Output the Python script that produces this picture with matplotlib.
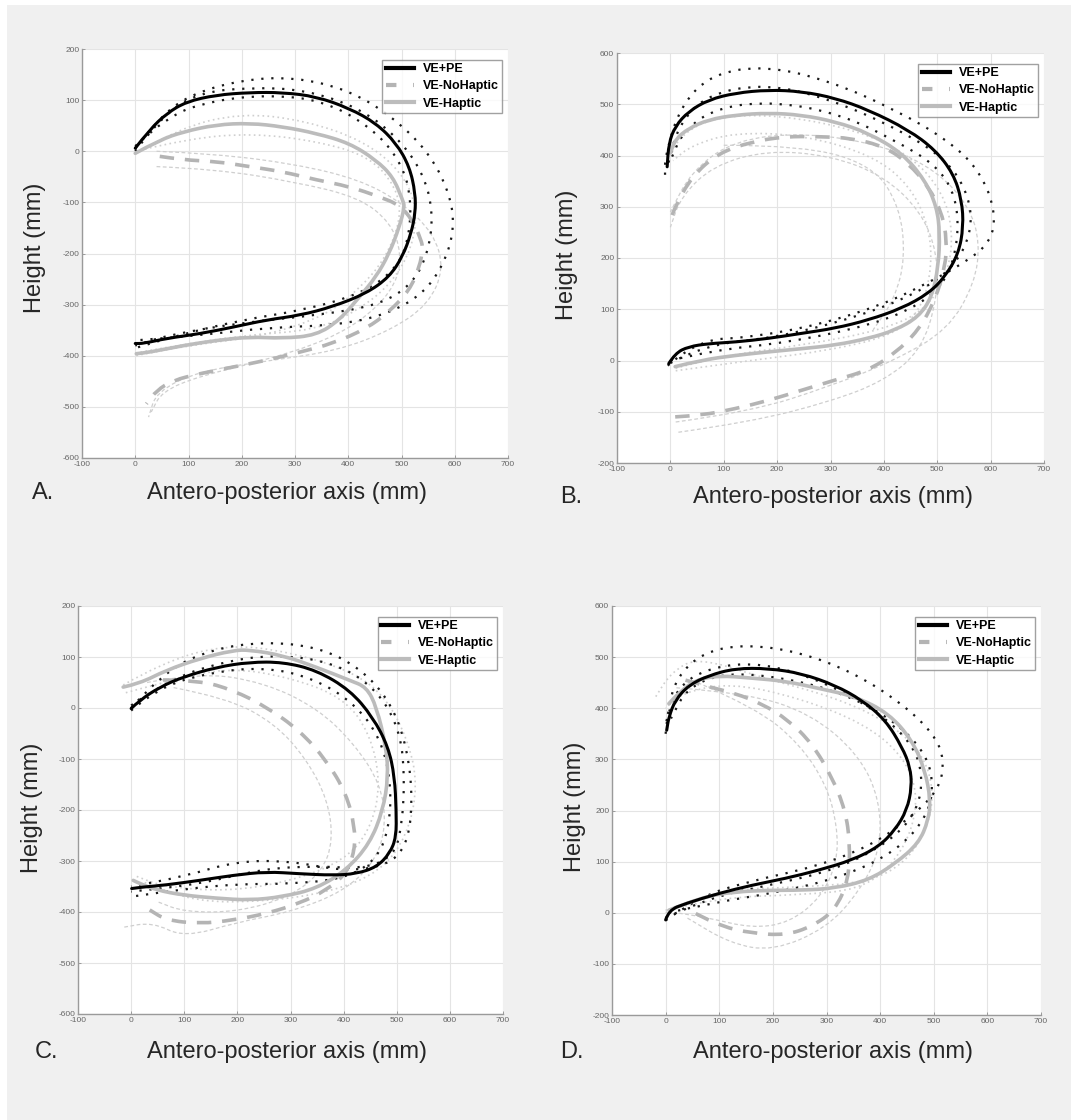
import matplotlib.pyplot as plt
from matplotlib.patches import Rectangle, PathPatch
from matplotlib.path import Path
from matplotlib.lines import Line2D
import numpy as np

plt.rcParams['font.family'] = ['Liberation Sans', 'DejaVu Sans']
plt.rcParams['axes.unicode_minus'] = False

W, H = 1071, 1120

# ---- panel A (x, y) in mm ----
A_PE_MEAN = [(0, 6), (27, 42), (59, 74), (96, 97), (152, 110), (215, 115), (277, 115), (340, 107),
             (402, 84), (452, 55), (490, 16), (515, -30), (526, -82), (526, -121), (518, -161),
             (502, -206), (477, -246), (434, -278), (371, -304), (309, -321), (246, -330),
             (184, -344), (121, -357), (59, -366), (15, -376), (0, -376)]
A_NOHAP_MEAN = [(46, -10), (90, -17), (152, -20), (215, -30), (277, -40), (340, -56), (402, -69),
                (459, -89), (496, -105), (521, -135), (537, -174), (540, -190), (534, -226),
                (515, -272), (477, -314), (434, -347), (371, -376), (309, -393), (246, -409),
                (184, -422), (121, -435), (71, -448), (40, -468), (21, -494)]
A_HAP_MEAN = [(0, -4), (46, 22), (90, 38), (152, 52), (215, 55), (277, 48), (340, 35), (402, 16),
              (452, -17), (484, -50), (502, -95), (506, -108), (496, -148), (477, -200),
              (452, -246), (421, -285), (384, -330), (340, -360), (277, -366), (215, -363),
              (152, -370), (90, -380), (27, -393), (2, -396)]
A_PE_TRIALS = [
    [(0, 5), (40, 60), (100, 110), (200, 140), (300, 145), (400, 120), (480, 70), (550, 0),
     (590, -80), (600, -150), (580, -220), (540, -280), (470, -320), (380, -340), (250, -345),
     (120, -360), (0, -370)],
    [(0, 0), (50, 70), (120, 115), (220, 125), (320, 120), (420, 85), (490, 30), (540, -40),
     (560, -120), (550, -200), (520, -260), (460, -300), (350, -320), (200, -335), (60, -360),
     (0, -380)],
    [(0, 10), (60, 70), (150, 100), (250, 110), (350, 100), (440, 50), (500, -20), (520, -100),
     (510, -190), (480, -240), (420, -280), (320, -310), (200, -330), (80, -360), (0, -385)],
]
A_HAP_TRIALS = [
    [(0, -5), (80, 45), (200, 75), (320, 60), (430, 20), (500, -40), (530, -110), (520, -190),
     (480, -260), (420, -310), (340, -350), (200, -360), (50, -385), (0, -395)],
    [(0, 0), (100, 25), (220, 35), (340, 20), (440, -10), (490, -70), (500, -130), (470, -210),
     (420, -270), (360, -320), (250, -360), (100, -380), (0, -400)],
]
A_NOHAP_TRIALS = [
    [(40, 0), (150, -5), (300, -25), (420, -55), (500, -100), (560, -160), (580, -230),
     (550, -300), (480, -350), (380, -390), (250, -410), (120, -430), (40, -470), (25, -520)],
    [(40, -30), (150, -35), (300, -60), (420, -90), (480, -140), (500, -200), (490, -260),
     (440, -320), (360, -370), (240, -410), (120, -440), (50, -470), (30, -510)],
]

# ---- panel B ----
B_PE_MEAN = [(-3, -6), (9, 14), (34, 27), (72, 33), (122, 36), (184, 43), (246, 53), (309, 63),
             (371, 79), (434, 102), (484, 131), (515, 164), (540, 209), (549, 261), (546, 313),
             (530, 365), (496, 411), (446, 450), (371, 489), (309, 512), (246, 525), (184, 528),
             (122, 522), (72, 509), (34, 486), (9, 457), (-3, 424), (-6, 378)]
B_NOHAP_MEAN = [(9, -110), (59, -107), (122, -94), (184, -78), (246, -58), (309, -38),
                (371, -19), (421, 14), (465, 59), (496, 118), (515, 183), (518, 235), (509, 287),
                (484, 339), (446, 385), (402, 417), (340, 434), (277, 437), (215, 437),
                (153, 427), (90, 405), (40, 359), (9, 300), (0, 274)]
B_HAP_MEAN = [(9, -12), (59, 1), (122, 10), (184, 17), (246, 23), (309, 30), (371, 43), (421, 59),
              (465, 85), (490, 124), (502, 183), (505, 248), (499, 300), (477, 352), (434, 405),
              (371, 444), (309, 466), (246, 479), (184, 483), (122, 479), (72, 470), (34, 453),
              (9, 431), (0, 405)]
B_PE_TRIALS = [
    [(-5, -10), (50, 40), (150, 45), (280, 70), (400, 110), (480, 150), (550, 190), (600, 230),
     (610, 290), (580, 370), (520, 430), (420, 490), (300, 545), (180, 575), (80, 560),
     (20, 500), (-10, 400), (-10, 360)],
    [(0, -5), (60, 30), (200, 45), (350, 85), (460, 130), (530, 180), (565, 250), (560, 320),
     (520, 390), (430, 450), (300, 510), (180, 540), (70, 520), (15, 460), (-5, 380)],
    [(0, 0), (80, 20), (220, 35), (380, 70), (470, 110), (520, 160), (540, 240), (535, 320),
     (500, 380), (420, 430), (320, 480), (200, 505), (90, 495), (25, 450), (0, 390)],
]
B_HAP_TRIALS = [
    [(10, -15), (100, 10), (250, 30), (400, 60), (480, 100), (520, 170), (530, 250), (510, 330),
     (450, 400), (350, 450), (200, 480), (80, 475), (20, 440), (0, 400)],
    [(10, -20), (150, 0), (300, 20), (420, 50), (470, 100), (490, 180), (485, 260), (450, 340),
     (380, 400), (250, 440), (120, 445), (40, 420), (5, 390)],
]
B_NOHAP_TRIALS = [
    [(10, -120), (150, -100), (300, -50), (420, 0), (520, 60), (570, 150), (580, 230),
     (560, 300), (500, 370), (400, 420), (250, 445), (120, 430), (40, 370), (0, 290)],
    [(15, -140), (150, -120), (300, -80), (400, -40), (470, 20), (500, 120), (500, 210),
     (470, 290), (400, 360), (300, 400), (180, 410), (80, 380), (20, 320), (0, 260)],
    [(100, 420), (250, 420), (380, 380), (430, 300), (440, 200), (420, 120), (380, 60)],
]

# ---- panel C ----
C_PE_MEAN = [(0, -1), (16, 15), (54, 41), (98, 61), (161, 80), (223, 90), (286, 90), (349, 74),
             (412, 35), (455, -18), (484, -76), (496, -135), (499, -201), (499, -253),
             (487, -285), (462, -312), (424, -325), (380, -328), (317, -325), (255, -321),
             (192, -328), (129, -338), (66, -347), (23, -351), (1, -354)]
C_NOHAP_MEAN = [(60, 55), (129, 54), (192, 35), (255, 2), (317, -44), (368, -103), (405, -168),
                (421, -233), (421, -279), (405, -325), (368, -357), (317, -383), (255, -403),
                (192, -416), (129, -423), (66, -416), (35, -396)]
C_HAP_MEAN = [(-15, 41), (16, 48), (66, 74), (129, 97), (192, 113), (223, 114), (286, 103),
              (349, 80), (412, 54), (443, 41), (462, 2), (480, -76), (484, -135), (474, -201),
              (449, -266), (405, -318), (349, -354), (286, -370), (223, -377), (161, -373),
              (98, -367), (48, -357), (16, -344), (4, -338)]
C_PE_TRIALS = [
    [(0, 0), (60, 70), (150, 115), (250, 130), (350, 120), (430, 80), (490, 10), (520, -80),
     (530, -180), (520, -270), (480, -310), (400, -320), (300, -300), (200, -300), (100, -330),
     (0, -350)],
    [(0, -5), (50, 40), (150, 70), (250, 80), (340, 60), (420, 10), (470, -60), (490, -150),
     (485, -240), (460, -300), (400, -335), (300, -345), (200, -345), (100, -355), (0, -370)],
    [(0, 5), (70, 55), (170, 90), (270, 105), (380, 90), (460, 40), (505, -40), (515, -130),
     (510, -230), (495, -290), (440, -315), (350, -310), (250, -315), (130, -345), (0, -360)],
]
C_HAP_TRIALS = [
    [(-15, 45), (60, 90), (180, 125), (300, 110), (420, 70), (480, 20), (520, -60), (540, -150),
     (520, -250), (470, -320), (380, -360), (250, -380), (120, -380), (20, -340)],
    [(-10, 30), (60, 50), (180, 80), (300, 60), (400, 20), (450, -50), (470, -150), (450, -240),
     (400, -300), (300, -340), (180, -360), (60, -350), (10, -330)],
]
C_NOHAP_TRIALS = [
    [(30, 50), (130, 70), (250, 50), (350, 0), (420, -70), (470, -150), (480, -230), (460, -300),
     (400, -360), (300, -400), (200, -420), (100, -450), (40, -420), (-15, -430)],
    [(80, 40), (180, 20), (270, -30), (330, -100), (370, -180), (380, -260), (360, -320),
     (300, -370), (200, -400), (100, -400), (50, -380)],
]

# ---- panel D ----
D_PE_MEAN = [(0, -14), (6, 5), (37, 18), (99, 38), (161, 54), (223, 67), (285, 83), (348, 103),
             (397, 129), (428, 162), (450, 201), (459, 246), (456, 285), (441, 324), (410, 377),
             (366, 416), (316, 445), (254, 468), (192, 478), (130, 478), (80, 464), (43, 445),
             (18, 416), (6, 383), (2, 357)]
D_NOHAP_MEAN = [(37, 455), (80, 442), (130, 429), (179, 409), (229, 377), (273, 331), (310, 266),
                (335, 201), (344, 135), (341, 64), (316, 5), (273, -27), (223, -44), (161, -40),
                (105, -27), (55, -1)]
D_HAP_MEAN = [(6, 5), (68, 31), (130, 41), (192, 44), (254, 44), (316, 48), (379, 64), (428, 96),
              (472, 136), (490, 181), (494, 220), (484, 278), (460, 337), (416, 390), (354, 423),
              (285, 439), (223, 453), (161, 459), (99, 464), (55, 455), (24, 429), (6, 409)]
D_PE_TRIALS = [
    [(0, -15), (60, 30), (150, 60), (280, 90), (380, 130), (450, 180), (510, 240), (520, 300),
     (500, 350), (440, 410), (350, 470), (250, 510), (150, 525), (70, 510), (20, 460), (5, 400),
     (0, 350)],
    [(0, -10), (80, 30), (200, 55), (320, 85), (420, 140), (470, 200), (480, 270), (460, 330),
     (400, 390), (300, 450), (180, 490), (80, 480), (20, 440), (0, 370)],
    [(5, 0), (90, 20), (210, 40), (330, 70), (430, 120), (490, 190), (500, 260), (480, 320),
     (420, 380), (330, 430), (220, 460), (110, 470), (40, 440), (10, 380)],
]
D_HAP_TRIALS = [
    [(0, 0), (100, 45), (250, 50), (380, 60), (450, 100), (490, 170), (500, 240), (480, 310),
     (420, 370), (320, 420), (180, 460), (60, 500), (10, 470), (-20, 420)],
    [(0, 5), (100, 30), (250, 35), (360, 45), (420, 90), (460, 160), (470, 240), (440, 310),
     (370, 370), (250, 420), (120, 450), (30, 430), (0, 400)],
]
D_NOHAP_TRIALS = [
    [(20, 440), (150, 430), (270, 390), (360, 310), (400, 220), (400, 120), (360, 40),
     (300, -30), (200, -75), (120, -60), (40, -10)],
    [(60, 450), (170, 400), (250, 330), (300, 250), (320, 170), (320, 100), (290, 30),
     (230, -20), (160, -30), (80, -10), (20, 0)],
]

PANEL_LETTERS = ['A.', 'B.', 'C.', 'D.']
Y_LIMITS = [(-600, 200), (-200, 600), (-600, 200), (-200, 600)]
X_LIMITS = (-100, 700)
LEGEND_LABELS = ['VE+PE', 'VE-NoHaptic', 'VE-Haptic']

panels = [
    (A_PE_MEAN, A_NOHAP_MEAN, A_HAP_MEAN, A_PE_TRIALS, A_NOHAP_TRIALS, A_HAP_TRIALS),
    (B_PE_MEAN, B_NOHAP_MEAN, B_HAP_MEAN, B_PE_TRIALS, B_NOHAP_TRIALS, B_HAP_TRIALS),
    (C_PE_MEAN, C_NOHAP_MEAN, C_HAP_MEAN, C_PE_TRIALS, C_NOHAP_TRIALS, C_HAP_TRIALS),
    (D_PE_MEAN, D_NOHAP_MEAN, D_HAP_MEAN, D_PE_TRIALS, D_NOHAP_TRIALS, D_HAP_TRIALS),
]

# axes boxes in pixels: left, top, right, bottom
boxes = [(82, 49, 508, 458), (617, 53, 1044, 463), (78, 606, 503, 1014), (612, 606, 1041, 1015)]
# label positions in pixels
ylab_pos = [(35, 248), (567, 255), (32, 808), (575, 807)]
xlab_pos = [(287, 493), (833, 497), (287, 1052), (833, 1052)]
letter_pos = [(32, 493), (560, 497), (35, 1052), (560, 1052)]

PE_COLOR = 'black'
NOHAP_COLOR = '#b4b4b4'
HAP_COLOR = '#bcbcbc'
TRIAL_COLOR = '#cfcfcf'


def fx(px):
    return px / W


def fy(py):
    return 1 - py / H


def smooth_path(pts):
    # quadratic bezier through the midpoints, so the measured points read as a curve
    p = np.array(pts, dtype=float)
    verts = [p[0]]
    codes = [Path.MOVETO]
    for k in range(1, len(p) - 1):
        verts += [p[k], (p[k] + p[k + 1]) / 2]
        codes += [Path.CURVE3, Path.CURVE3]
    verts.append(p[-1])
    codes.append(Path.LINETO)
    return Path(verts, codes)


def draw(ax, pts, **kw):
    ax.add_patch(PathPatch(smooth_path(pts), fill=False, **kw))


fig = plt.figure(figsize=(W / 100, H / 100), dpi=100, facecolor='#f0f0f0')
# thin white border on the top and left edges
fig.patches.append(Rectangle((0, 0), fx(7), 1, transform=fig.transFigure,
                             facecolor='white', edgecolor='none', zorder=-1))
fig.patches.append(Rectangle((0, fy(5)), 1, 1, transform=fig.transFigure,
                             facecolor='white', edgecolor='none', zorder=-1))

for i, (pe, nohap, hap, pe_tr, nohap_tr, hap_tr) in enumerate(panels):
    l, t, r, b = boxes[i]
    ax = fig.add_axes([fx(l), fy(b), fx(r - l), (b - t) / H])
    ax.set_facecolor('white')

    # individual trials
    for tr in nohap_tr:
        draw(ax, tr, edgecolor=TRIAL_COLOR, lw=0.9, linestyle=(0, (3, 2)), zorder=2)
    for tr in hap_tr:
        draw(ax, tr, edgecolor=TRIAL_COLOR, lw=1.2, linestyle=(0, (1, 2)), zorder=2)
    for tr in pe_tr:
        draw(ax, tr, edgecolor='#1a1a1a', lw=1.6, linestyle=(0, (1, 3.5)), zorder=3)

    # means
    draw(ax, nohap, edgecolor=NOHAP_COLOR, lw=2.6, linestyle=(0, (4, 3)), zorder=4)
    draw(ax, hap, edgecolor=HAP_COLOR, lw=2.6, zorder=4, capstyle='round')
    draw(ax, pe, edgecolor=PE_COLOR, lw=2.2, zorder=5, capstyle='round')

    ax.set_xlim(*X_LIMITS)
    ax.set_ylim(*Y_LIMITS[i])
    ax.set_xticks(np.arange(-100, 701, 100))
    ax.set_yticks(np.arange(Y_LIMITS[i][0], Y_LIMITS[i][1] + 1, 100))
    ax.grid(True, color='#e4e4e4', lw=0.8)
    ax.set_axisbelow(True)
    for s in ['top', 'right']:
        ax.spines[s].set_visible(False)
    for s in ['left', 'bottom']:
        ax.spines[s].set_color('#9a9a9a')
        ax.spines[s].set_linewidth(1.0)
    ax.tick_params(direction='in', length=2.5, width=0.7, colors='#9a9a9a',
                   labelcolor='#666666', labelsize=6, pad=2)

    handles = [Line2D([], [], color=PE_COLOR, lw=3),
               Line2D([], [], color=NOHAP_COLOR, lw=3, dashes=(2.5, 4)),
               Line2D([], [], color=HAP_COLOR, lw=3)]
    leg = ax.legend(handles, LEGEND_LABELS, loc='upper right', bbox_to_anchor=(0.985, 0.973),
                    prop={'weight': 'bold', 'size': 9}, frameon=True, fancybox=False,
                    handlelength=2.3, handletextpad=0.65, borderpad=0.25, labelspacing=0.42,
                    borderaxespad=0)
    leg.get_frame().set_edgecolor('#8a8a8a')
    leg.get_frame().set_linewidth(1.0)
    leg.set_zorder(10)

    fig.text(fx(ylab_pos[i][0]), fy(ylab_pos[i][1]), 'Height (mm)', rotation=90,
             ha='center', va='center', fontsize=17, color='#262626')
    fig.text(fx(xlab_pos[i][0]), fy(xlab_pos[i][1]), 'Antero-posterior axis (mm)',
             ha='center', va='center', fontsize=17, color='#262626')
    fig.text(fx(letter_pos[i][0]), fy(letter_pos[i][1]), PANEL_LETTERS[i],
             ha='left', va='center', fontsize=17, color='#262626')

fig.savefig('out.png', dpi=100, facecolor=fig.get_facecolor())
